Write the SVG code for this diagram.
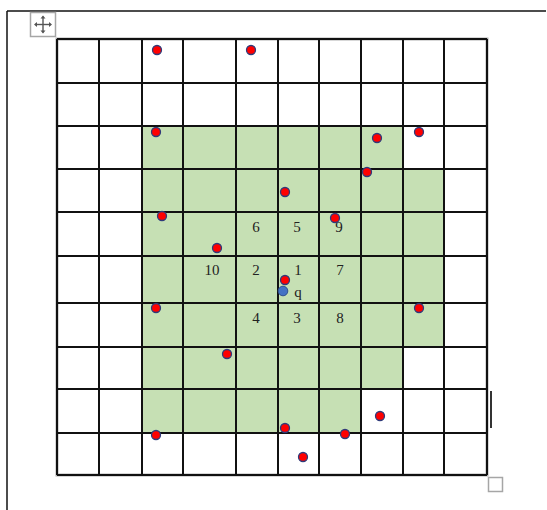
<svg xmlns="http://www.w3.org/2000/svg" width="547" height="510" viewBox="0 0 547 510">
<style>
.grid{stroke:#111;stroke-width:2;fill:none}
.dot{fill:#ff0000;stroke:#2f3a7a;stroke-width:1.3}
.q{fill:#4472c4;stroke:#2f4f8f;stroke-width:1}
.lbl{font-family:"Liberation Serif","Times New Roman",serif;font-size:15px;fill:#222;text-anchor:middle}
.handle{fill:#fff;stroke:#a6a6a6;stroke-width:1.5}
</style>
<rect width="547" height="510" fill="#fff"/>
<g id="frame" stroke="#111" stroke-width="1.5" fill="none">
<line x1="7" y1="11" x2="546" y2="11"/>
<line x1="7" y1="11" x2="7" y2="510"/>
</g>
<g id="move-handle">
<rect class="handle" x="30.5" y="12.5" width="25" height="24"/>
<g stroke="#555" stroke-width="1.4" fill="#555">
<line x1="35" y1="24.5" x2="51" y2="24.5"/>
<line x1="43" y1="16.5" x2="43" y2="32.5"/>
<polygon points="34,24.5 37,22 37,27" stroke="none"/>
<polygon points="52,24.5 49,22 49,27" stroke="none"/>
<polygon points="43,15.5 40.5,18.5 45.5,18.5" stroke="none"/>
<polygon points="43,33.5 40.5,30.5 45.5,30.5" stroke="none"/>
</g>
</g>
<g id="shaded-region">
<polygon fill="#c6e0b4" points="142,126 402,126 402,169 444,169 444,347 402,347 402,389 360,389 360,433 142,433"/>
</g>
<g id="grid" class="grid">
<rect x="57" y="39" width="430" height="436" stroke="#b0b0b0" stroke-width="3"/>
<line x1="57" y1="39" x2="487" y2="39"/>
<line x1="57" y1="83" x2="487" y2="83"/>
<line x1="57" y1="126" x2="487" y2="126"/>
<line x1="57" y1="169" x2="487" y2="169"/>
<line x1="57" y1="212" x2="487" y2="212"/>
<line x1="57" y1="256" x2="487" y2="256"/>
<line x1="57" y1="303" x2="487" y2="303"/>
<line x1="57" y1="347" x2="487" y2="347"/>
<line x1="57" y1="389" x2="487" y2="389"/>
<line x1="57" y1="433" x2="487" y2="433"/>
<line x1="57" y1="475" x2="487" y2="475"/>
<line x1="57" y1="39" x2="57" y2="475"/>
<line x1="99" y1="39" x2="99" y2="475"/>
<line x1="142" y1="39" x2="142" y2="475"/>
<line x1="183" y1="39" x2="183" y2="475"/>
<line x1="236" y1="39" x2="236" y2="475"/>
<line x1="278" y1="39" x2="278" y2="475"/>
<line x1="319" y1="39" x2="319" y2="475"/>
<line x1="361" y1="39" x2="361" y2="475"/>
<line x1="403" y1="39" x2="403" y2="475"/>
<line x1="444" y1="39" x2="444" y2="475"/>
<line x1="487" y1="39" x2="487" y2="475"/>
</g>
<g id="labels">
<text class="lbl" x="256" y="232">6</text>
<text class="lbl" x="297" y="232">5</text>
<text class="lbl" x="339" y="232">9</text>
<text class="lbl" x="212" y="275">10</text>
<text class="lbl" x="256" y="275">2</text>
<text class="lbl" x="298" y="275">1</text>
<text class="lbl" x="340" y="275">7</text>
<text class="lbl" x="298" y="297">q</text>
<text class="lbl" x="256" y="323">4</text>
<text class="lbl" x="297" y="323">3</text>
<text class="lbl" x="340" y="323">8</text>
</g>
<g id="points">
<circle id="p1" class="dot" cx="157" cy="50" r="4.5"/>
<circle id="p2" class="dot" cx="251" cy="50" r="4.5"/>
<circle id="p3" class="dot" cx="156" cy="132" r="4.5"/>
<circle id="p4" class="dot" cx="377" cy="138" r="4.5"/>
<circle id="p5" class="dot" cx="419" cy="132" r="4.5"/>
<circle id="p6" class="dot" cx="367" cy="172" r="4.5"/>
<circle id="p7" class="dot" cx="285" cy="192" r="4.5"/>
<circle id="p8" class="dot" cx="162" cy="216" r="4.5"/>
<circle id="p9" class="dot" cx="335" cy="218" r="4.5"/>
<circle id="p10" class="dot" cx="217" cy="248" r="4.5"/>
<circle id="p11" class="dot" cx="156" cy="308" r="4.5"/>
<circle id="p12" class="dot" cx="419" cy="308" r="4.5"/>
<circle id="p13" class="dot" cx="227" cy="354" r="4.5"/>
<circle id="p14" class="dot" cx="380" cy="416" r="4.5"/>
<circle id="p15" class="dot" cx="285" cy="428" r="4.5"/>
<circle id="p16" class="dot" cx="345" cy="434" r="4.5"/>
<circle id="p17" class="dot" cx="156" cy="435" r="4.5"/>
<circle id="p18" class="dot" cx="303" cy="457" r="4.5"/>
<circle id="query" class="q" cx="283" cy="291" r="4.8"/>
<circle id="p19" class="dot" cx="285" cy="280" r="4.5"/>
</g>
<g id="cursor">
<rect x="490" y="391" width="2" height="37" fill="#333"/>
</g>
<g id="resize-handle">
<rect class="handle" x="488.5" y="477.5" width="14" height="14"/>
</g>
</svg>
